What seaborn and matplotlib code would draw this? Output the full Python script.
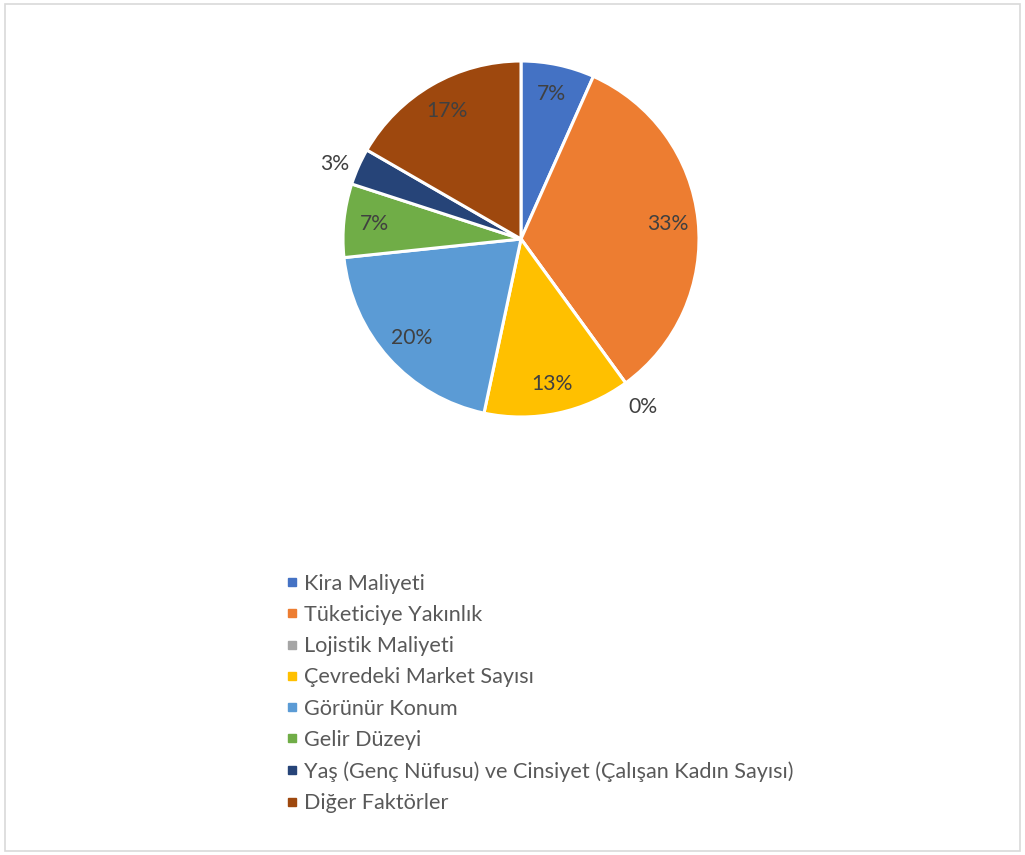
import matplotlib
matplotlib.use("Agg")
import matplotlib.pyplot as plt
import seaborn as sns
import numpy as np
from matplotlib.patches import Rectangle
from matplotlib.lines import Line2D

categories = ["Kira Maliyeti", "Tüketiciye Yakınlık", "Lojistik Maliyeti",
              "Çevredeki Market Sayısı", "Görünür Konum", "Gelir Düzeyi",
              "Yaş (Genç Nüfusu) ve Cinsiyet (Çalışan Kadın Sayısı)", "Diğer Faktörler"]
counts = [2, 10, 0, 4, 6, 2, 1, 5]
colors = ["#4472C4", "#ED7D31", "#A5A5A5", "#FFC000", "#5B9BD5", "#70AD47", "#264478", "#9E480E"]

sns.set_theme(style="white")
plt.rcParams['font.family'] = ['Lato', 'DejaVu Sans']
palette = sns.color_palette(colors)

W, H = 1025, 855
fig = plt.figure(figsize=(W / 100, H / 100), dpi=100)
fig.patch.set_facecolor("white")

cx, cy, R = 521, 239, 178
ax = fig.add_axes([(cx - R) / W, (H - cy - R) / H, 2 * R / W, 2 * R / H])
wedges, _ = ax.pie(counts, colors=palette, startangle=90, counterclock=False,
                   radius=1, wedgeprops=dict(edgecolor="white", linewidth=2.2))
ax.set_xlim(-1, 1)
ax.set_ylim(-1, 1)
ax.set_aspect("equal")
ax.axis("off")

total = sum(counts)
for w, c in zip(wedges, counts):
    frac = c / total
    ang = (w.theta1 + w.theta2) / 2
    if frac < 0.05:
        if c == 0:
            dist = 1.17
        else:
            dist, ang = 1.13, ang + 2
    else:
        dist = 0.83
    x, y = dist * np.cos(np.radians(ang)), dist * np.sin(np.radians(ang))
    ax.text(x, y, f"{round(frac * 100):d}%", ha="center", va="center",
            fontsize=15.2, color="#404040", clip_on=False)

handles = [Line2D([0], [0], marker="s", linestyle="none", markersize=6.2,
                  markerfacecolor=col, markeredgecolor=col) for col in palette]
leg = fig.legend(handles, categories, loc="upper left", bbox_to_anchor=(277 / W, 1 - 565 / H),
                 frameon=False, fontsize=15.6, handlelength=0.55, handletextpad=0.3,
                 labelspacing=0.52, borderaxespad=0)
for t in leg.get_texts():
    t.set_color("#595959")

fig.add_artist(Rectangle((5 / W, 4 / H), 1015 / W, 847 / H, transform=fig.transFigure,
                         fill=False, edgecolor="#D9D9D9", linewidth=1.2))

fig.savefig("out.png", dpi=100)
